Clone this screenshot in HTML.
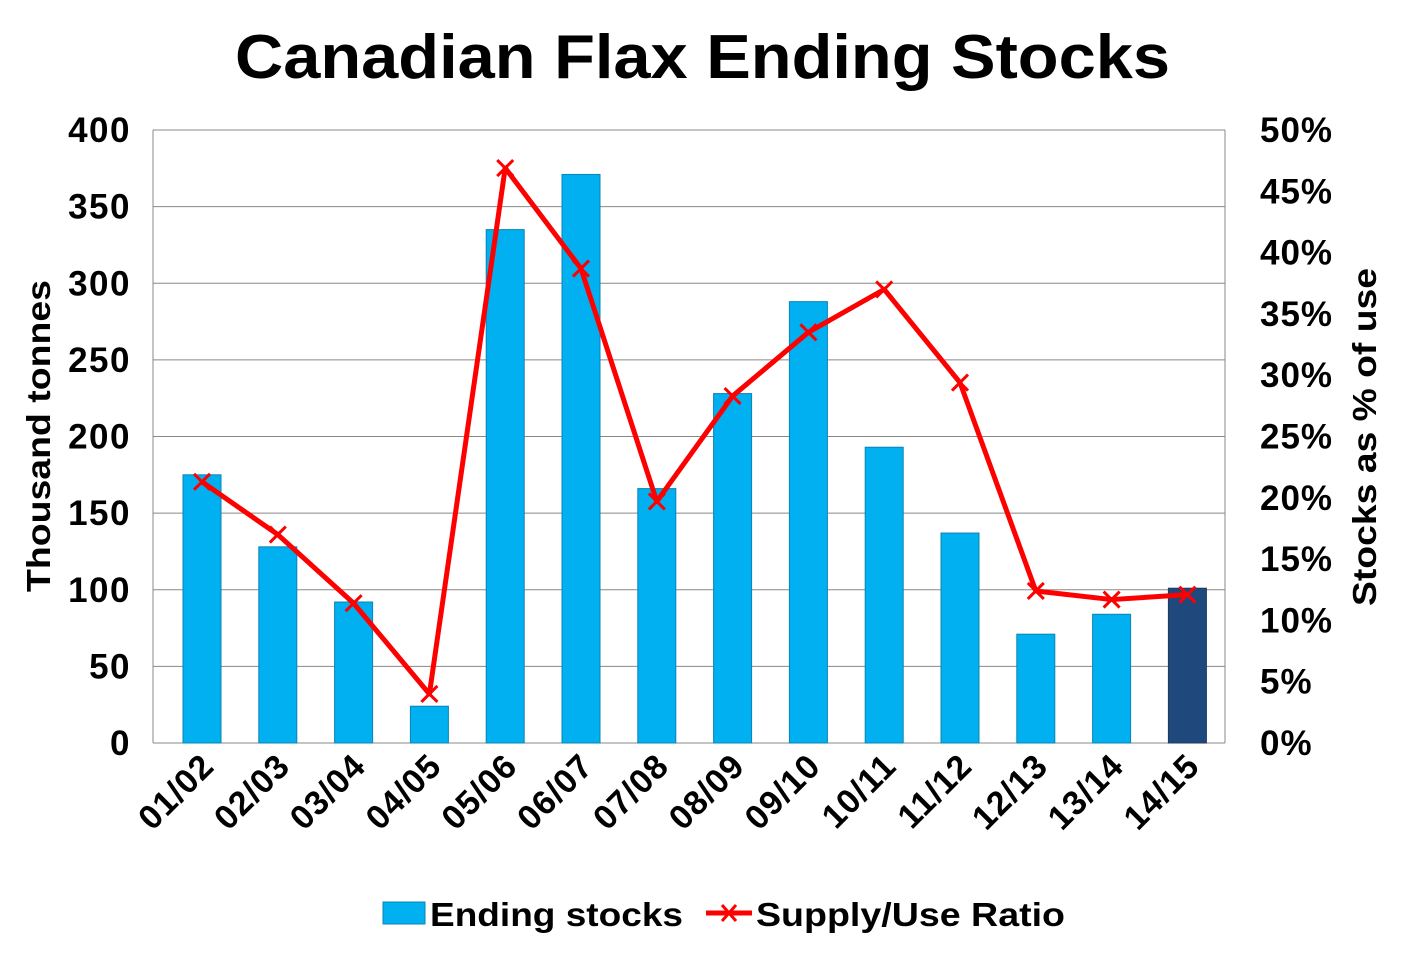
<!DOCTYPE html>
<html><head><meta charset="utf-8"><style>
body{margin:0;background:#fff;}
svg{display:block;font-family:"Liberation Sans",Arial,sans-serif;font-weight:bold;}
</style></head><body>
<svg id="chart" width="1406" height="956" viewBox="0 0 1406 956">
<text x="235" y="78" font-size="62" textLength="935" lengthAdjust="spacingAndGlyphs">Canadian Flax Ending Stocks</text>
<g id="grid"></g><g id="bars"></g><g id="line"></g><g id="axes"></g>
<text transform="translate(50,592) rotate(-90)" font-size="33" textLength="312" lengthAdjust="spacingAndGlyphs">Thousand tonnes</text>
<text transform="translate(1376,606) rotate(-90)" font-size="33" textLength="338" lengthAdjust="spacingAndGlyphs">Stocks as % of use</text>
<g>
<rect x="383" y="902" width="42" height="22" fill="#00B0F0" stroke="#0a84b5"/>
<text x="430" y="926" font-size="33" textLength="253" lengthAdjust="spacingAndGlyphs">Ending stocks</text>
<line x1="706" y1="913" x2="752" y2="913" stroke="#FF0000" stroke-width="5"/>
<path d="M722 905 L736 921 M736 905 L722 921" stroke="#FF0000" stroke-width="3"/>
<text x="756" y="926" font-size="33" textLength="309" lengthAdjust="spacingAndGlyphs">Supply/Use Ratio</text>
</g>
</svg>
<script>
const categories=["01/02","02/03","03/04","04/05","05/06","06/07","07/08","08/09","09/10","10/11","11/12","12/13","13/14","14/15"];
const stocks=[175,128,92,24,335,371,166,228,288,193,137,71,84,101];
const ratio=[21.3,17.0,11.4,4.0,46.9,38.7,19.7,28.3,33.5,37.0,29.4,12.4,11.7,12.1];
const leftTicks=[0,50,100,150,200,250,300,350,400];
const rightTicks=[0,5,10,15,20,25,30,35,40,45,50];
const NS="http://www.w3.org/2000/svg";
const L=153,R=1225,T=130,B=743;
const y1=v=>B-(v/400)*(B-T);
const y2=v=>B-(v/50)*(B-T);
const xc=i=>202+i*75.8;
function mk(tag,attrs,parent,text){const e=document.createElementNS(NS,tag);for(const k in attrs)e.setAttribute(k,attrs[k]);if(text!==undefined)e.textContent=text;document.getElementById(parent).appendChild(e);return e;}
leftTicks.forEach(t=>{
 const g=mk('line',{x1:L,x2:R,y1:y1(t),y2:y1(t),stroke:'#888','stroke-width':1},'grid');
 
 
 const tx=mk('text',{x:L-22,y:y1(t)+12,'text-anchor':'end','font-size':35,'letter-spacing':1.5},'axes',String(t));
 
 
});
rightTicks.forEach(t=>{
 const tx=mk('text',{x:R+35,y:y2(t)+12,'text-anchor':'start','font-size':35,'letter-spacing':1},'axes',t+'%');
 
 
});
mk('line',{x1:L,x2:L,y1:T,y2:B,stroke:'#888'},'axes');
mk('line',{x1:R,x2:R,y1:T,y2:B,stroke:'#888'},'axes');
categories.forEach((c,i)=>{
 const b=mk('rect',{x:xc(i)-19,y:y1(stocks[i]),width:38,height:B-y1(stocks[i]),fill:i===13?'#1F497D':'#00B0F0',stroke:i===13?'#1F3A60':'#0a84b5','stroke-width':1},'bars');
 
 
 const tx=mk('text',{transform:`translate(${xc(i)+14},${B+25}) rotate(-45)`,'text-anchor':'end','font-size':34,'letter-spacing':1},'axes',c);
 
 
});
const pts=ratio.map((v,i)=>xc(i)+','+y2(v)).join(' ');
const pl=mk('polyline',{points:pts,fill:'none',stroke:'#FF0000','stroke-width':5,'stroke-linejoin':'round'},'line');


ratio.forEach((v,i)=>{
 const x=xc(i),y=y2(v);
 const m=mk('path',{d:`M${x-8} ${y-8}L${x+8} ${y+8}M${x+8} ${y-8}L${x-8} ${y+8}`,stroke:'#FF0000','stroke-width':3},'line');
 
 
});
</script>
</body></html>
